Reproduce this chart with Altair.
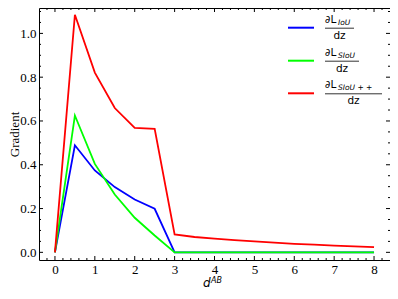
import altair as alt
import pandas as pd
import numpy as np

# ---- data ----
d_ab = [0, 0.5, 1, 1.5, 2, 2.5, 3, 3.5, 4, 4.5, 5, 5.5, 6, 6.5, 7, 7.5, 8]
grad_iou = [0, 0.489, 0.374, 0.298, 0.241, 0.199, 0, 0, 0, 0, 0, 0, 0, 0, 0, 0, 0]
grad_siou = [0, 0.625, 0.404, 0.264, 0.158, 0.077, 0, 0, 0, 0, 0, 0, 0, 0, 0, 0, 0]
grad_siou_pp = [0, 1.085, 0.821, 0.659, 0.568, 0.564, 0.082, 0.070, 0.063, 0.056,
                0.050, 0.044, 0.039, 0.035, 0.031, 0.027, 0.024]
series_names = ["IoU", "SIoU", "SIoU++"]
series_colors = ["#0000ff", "#00ff00", "#ff0000"]
x_major = [0, 1, 2, 3, 4, 5, 6, 7, 8]
y_major = [0.0, 0.2, 0.4, 0.6, 0.8, 1.0]
x_minor = [round(v, 2) for v in np.arange(-0.2, 8.3, 0.2) if abs(v - round(v)) > 1e-6]
y_minor = [round(v, 3) for v in np.arange(-0.05, 1.11, 0.05)
           if abs(v * 5 - round(v * 5)) > 1e-6 and v > -0.034]

W, H = 351, 252
OX, OY = 39, 8  # page position of the plot origin
x_dom = [-0.4, 8.4]
y_dom = [-0.035, 1.116]
SERIF = "Liberation Serif, Times New Roman, serif"
SANS = "DejaVu Sans"

rows = []
for name, vals in zip(series_names, [grad_iou, grad_siou, grad_siou_pp]):
    for x, y in zip(d_ab, vals):
        rows.append({"d": x, "g": y, "series": name})
df = pd.DataFrame(rows)

xs = alt.Scale(domain=x_dom, nice=False, zero=False)
ys = alt.Scale(domain=y_dom, nice=False, zero=False)
x_axis = alt.Axis(values=x_major, format="d", ticks=False, domain=False, grid=False,
                  labelPadding=3, title=None)
y_axis = alt.Axis(values=y_major, format=".1f", ticks=False, domain=False, grid=False,
                  labelPadding=3, title="Gradient", titleX=-21, titleBaseline="alphabetic")

lines = alt.Chart(df).mark_line(strokeWidth=1.8, clip=True).encode(
    x=alt.X("d:Q", scale=xs, axis=x_axis),
    y=alt.Y("g:Q", scale=ys, axis=y_axis),
    color=alt.Color("series:N", scale=alt.Scale(domain=series_names, range=series_colors), legend=None),
    detail="series:N",
)


def xticks(vals, length, top):
    d = pd.DataFrame({"d": vals})
    if top:
        yy, yy2 = 0, length
    else:
        yy, yy2 = H, H - length
    return alt.Chart(d).mark_rule(color="black", strokeWidth=1).encode(
        x=alt.X("d:Q", scale=xs, axis=x_axis), y=alt.value(yy), y2=alt.value(yy2))


def yticks(vals, length, right):
    d = pd.DataFrame({"g": vals})
    if right:
        xx, xx2 = W, W - length
    else:
        xx, xx2 = 0, length
    return alt.Chart(d).mark_rule(color="black", strokeWidth=1).encode(
        y=alt.Y("g:Q", scale=ys, axis=y_axis), x=alt.value(xx), x2=alt.value(xx2))


tick_layers = [
    xticks(x_major, 4, False), xticks(x_major, 4, True),
    xticks(x_minor, 2, False), xticks(x_minor, 2, True),
    yticks(y_major, 4, False), yticks(y_major, 4, True),
    yticks(y_minor, 2, False), yticks(y_minor, 2, True),
]


def text(t, px, py, size, font=SANS, style="normal", align="left"):
    return alt.Chart(pd.DataFrame({"t": [t]})).mark_text(
        align=align, baseline="alphabetic", font=font, fontSize=size, fontStyle=style,
        color="black").encode(x=alt.value(px - OX), y=alt.value(py - OY), text="t:N")


def hline(px1, px2, py, color, width):
    return alt.Chart(pd.DataFrame({"a": [0]})).mark_rule(color=color, strokeWidth=width).encode(
        x=alt.value(px1 - OX), x2=alt.value(px2 - OX), y=alt.value(py - OY))


legend_layers = []
leg_y = [27.7, 60.7, 93.3]
subs = ["IoU", "SIoU", "SIoU + +"]
bar_end = [354, 359, 382]
for yl, sub, be, col in zip(leg_y, subs, bar_end, series_colors):
    bar = yl + 0.5
    legend_layers += [
        hline(288, 314, yl, col, 2),
        hline(325, be, bar, "#333333", 1),
        text("∂L", 325, bar - 5.5, 10.5),
        text(sub, 338, bar - 3.7, 7.5, style="italic"),
        text("dz", (325 + be) / 2, bar + 10.5, 10.5, align="center"),
    ]

xtitle = [
    text("d", 203, 287, 12, style="italic"),
    text("AB", 211, 282.5, 8, style="italic"),
]

chart = alt.layer(lines, *tick_layers, *legend_layers, *xtitle).properties(
    width=W, height=H, autosize="none",
    padding={"left": 31, "top": 0, "right": 0, "bottom": 30},
).configure_view(stroke="black", strokeWidth=1).configure_axis(
    labelFont=SERIF, labelFontSize=13, labelColor="black",
    titleFont=SERIF, titleFontSize=13, titleFontWeight="normal", titleColor="black")

chart.save("out.html", embed_options={"renderer": "svg", "actions": False})
